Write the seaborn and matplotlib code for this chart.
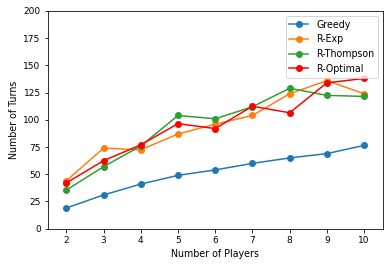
import matplotlib
matplotlib.use("Agg")
import matplotlib.pyplot as plt
import pandas as pd
import seaborn as sns

players = [2, 3, 4, 5, 6, 7, 8, 9, 10]
greedy = [19, 31, 41, 49, 54, 60, 65, 69, 76.5]
r_exp = [44, 74, 72.5, 87, 96, 104, 124, 136, 124]
r_thompson = [35.5, 57, 76, 104, 101, 112, 129, 122.5, 121.5]
r_optimal = [42, 62.5, 77, 96.5, 92, 112.5, 106.5, 134, 138]

series = {"Greedy": greedy, "R-Exp": r_exp, "R-Thompson": r_thompson, "R-Optimal": r_optimal}
colors = {"Greedy": "#1f77b4", "R-Exp": "#ff7f0e", "R-Thompson": "#2ca02c", "R-Optimal": "red"}

plt.rcParams["font.family"] = ["DejaVu Sans"]
plt.rcParams["font.size"] = 10
fig = plt.figure(figsize=(392 / 72, 266 / 72), dpi=72)
ax = fig.add_axes([47.7 / 392, 1 - 228.7 / 266, 335 / 392, 217.7 / 266])

for name, vals in series.items():
    sns.lineplot(x=players, y=vals, ax=ax, marker="o", markersize=7, markeredgewidth=0,
                 color=colors[name], label=name, linewidth=1.5)

ax.set_ylim(0, 200)
ax.set_xlim(1.5, 10.5)
ax.set_xticks(players)
ax.set_yticks(range(0, 201, 25))
ax.tick_params(labelsize=9)
ax.set_xlabel("Number of Players", fontsize=9.5)
ax.set_ylabel("Number of Turns", fontsize=9.5)
ax.legend(loc="upper right", fontsize=9.5)

fig.savefig("out.png", dpi=72)
